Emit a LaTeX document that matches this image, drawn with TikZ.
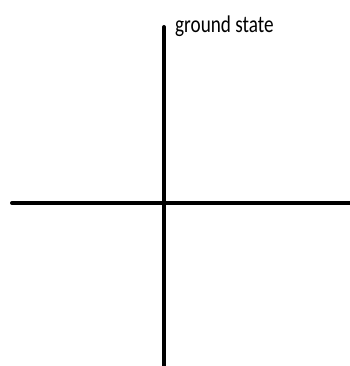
\documentclass[tikz,border=0pt]{standalone}
\usepackage{fontspec}
\setmainfont{Carlito}
\begin{document}
\begin{tikzpicture}[x=1pt,y=1pt,axis/.style={line width=4pt,line cap=round}]
  \useasboundingbox (0,0) rectangle (349,366);
  \coordinate (left) at (12,163);
  \coordinate (right) at (351,163);
  \coordinate (bottom) at (164,-2);
  \coordinate (top) at (164,339);
  \draw[axis] (left) -- (right);
  \draw[axis] (bottom) -- (top);
  \node[anchor=base west,inner sep=0pt,font=\fontsize{24}{26}\selectfont] (gs) at (175,333) {\scalebox{0.8}[1]{ground state}};
\end{tikzpicture}
\end{document}
